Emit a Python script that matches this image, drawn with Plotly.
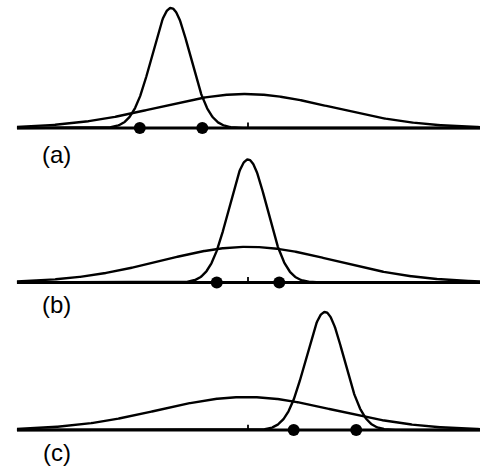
import numpy as np
import plotly.graph_objects as go

W, H = 489, 468

# Panels: label, centre of the narrow curve, centre of the wide curve (x in narrow-sd units)
panel_labels = ["(a)", "(b)", "(c)"]
narrow_means = [-4.05, 0.0, 4.05]
narrow_sd = 1.0
wide_means = [-0.15, 0.0, -0.1]
wide_sd = 4.6
wide_peaks = [0.283, 0.29, 0.28]     # wide peak height relative to narrow peak
interval_z = 1.645                   # dots mark the central 90% of the narrow curve
tick_height = 0.045

x_lo, x_hi = -12.16, 12.21           # extent of each baseline

# Pixel bands for each panel: (top, bottom, baseline, narrow peak)
bands = [(0, 142, 128, 8), (142, 294, 282.5, 159.5), (294, 450, 430, 312)]
label_pos = [(56, 154.5), (56, 304), (57, 452)]

px_per_unit = 19.0
x_center_px = 248.0
x_range = [(0 - x_center_px) / px_per_unit, (W - x_center_px) / px_per_unit]

xs = np.linspace(x_lo, x_hi, 800)


def gauss(x, mu, sd, peak):
    return peak * np.exp(-0.5 * ((x - mu) / sd) ** 2)


fig = go.Figure()
curve = dict(color="black", width=2.4)
layout_axes = {}

for i, (lab, mn, wm, wp) in enumerate(zip(panel_labels, narrow_means, wide_means, wide_peaks)):
    n = "" if i == 0 else str(i + 1)
    xa, ya = "x" + n, "y" + n
    top, bottom, base, peak = bands[i]
    scale = base - peak
    layout_axes["xaxis" + n] = dict(range=x_range, domain=[0, 1], visible=False,
                                    anchor=ya, fixedrange=True)
    layout_axes["yaxis" + n] = dict(range=[(base - bottom) / scale, (base - top) / scale],
                                    domain=[1 - bottom / H, 1 - top / H], visible=False,
                                    anchor=xa, fixedrange=True)

    # baseline
    fig.add_trace(go.Scatter(x=[x_lo, x_hi], y=[0, 0], mode="lines",
                             line=dict(color="black", width=2.8),
                             xaxis=xa, yaxis=ya, hoverinfo="skip"))
    # wide curve
    fig.add_trace(go.Scatter(x=xs, y=gauss(xs, wm, wide_sd, wp), mode="lines",
                             line=curve, xaxis=xa, yaxis=ya, hoverinfo="skip"))
    # narrow curve
    fig.add_trace(go.Scatter(x=xs, y=gauss(xs, mn, narrow_sd, 1.0), mode="lines",
                             line=curve, xaxis=xa, yaxis=ya, hoverinfo="skip"))
    # centre tick
    fig.add_trace(go.Scatter(x=[0, 0], y=[0, tick_height], mode="lines",
                             line=dict(color="black", width=1.8), xaxis=xa, yaxis=ya,
                             hoverinfo="skip"))
    # interval end points
    fig.add_trace(go.Scatter(x=[mn - interval_z * narrow_sd, mn + interval_z * narrow_sd],
                             y=[0, 0], mode="markers",
                             marker=dict(color="black", size=12), xaxis=xa, yaxis=ya,
                             hoverinfo="skip"))
    lx, ly = label_pos[i]
    fig.add_annotation(text=lab, x=lx / W, y=1 - ly / H, xref="paper", yref="paper",
                       showarrow=False, xanchor="center", yanchor="middle",
                       font=dict(family="Liberation Sans", size=24, color="black"))

fig.update_layout(width=W, height=H, margin=dict(l=0, r=0, t=0, b=0),
                  paper_bgcolor="white", plot_bgcolor="white", showlegend=False,
                  **layout_axes)

fig.write_html("out.html", config={"displayModeBar": False})
